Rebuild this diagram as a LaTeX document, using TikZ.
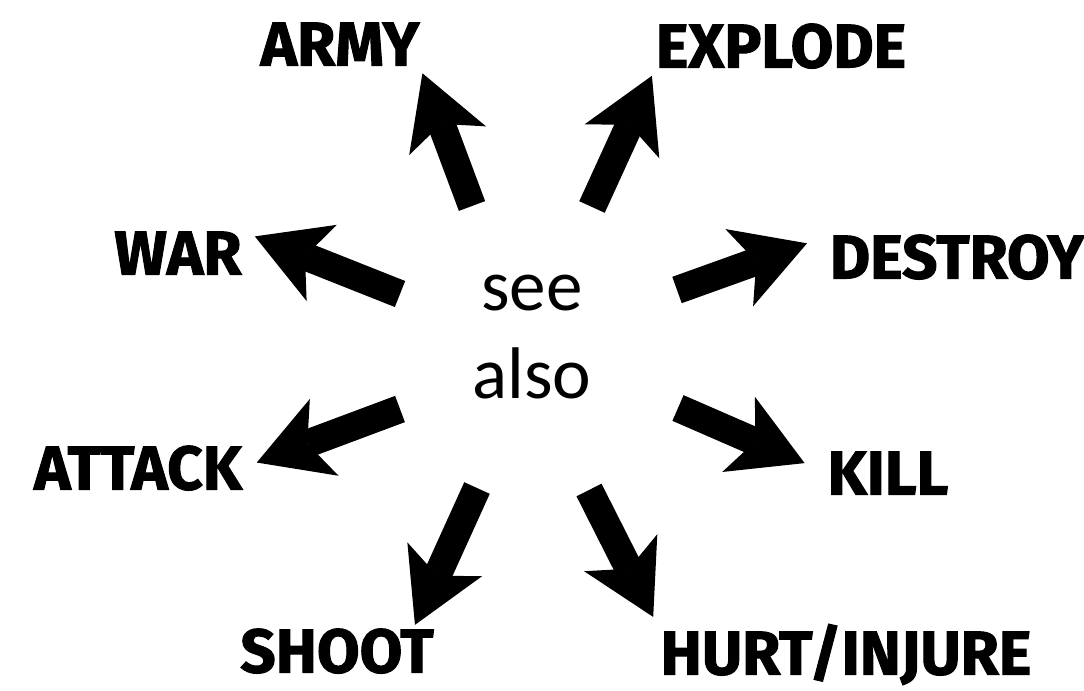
\documentclass[tikz,border=0pt]{standalone}
\usepackage{fontspec}
\setmainfont{Fira Sans}[BoldFeatures={FakeBold=1.6}]
\newfontfamily\seefont{Carlito}
\usetikzlibrary{arrows.meta}

\begin{document}
\begin{tikzpicture}[
      x=0.25mm, y=-0.25mm,
      word/.style={font=\bfseries\fontsize{44pt}{48pt}\selectfont,inner sep=0pt,text height=10.75mm,text depth=0pt},
      fat/.style={line width=7mm,-{Stealth[length=18mm,width=20.5mm,inset=4.5mm,line width=0pt]}}]
    \useasboundingbox (0,0) rectangle (1084,690);
    \node[font=\seefont\fontsize{52pt}{62pt}\selectfont,align=center] (seealso) at (532,337) {see\\also};
    \node[word] (army) at (340,44) {ARMY};
    \node[word] (explode) at (781,46) {EXPLODE};
    \node[word] (war) at (178,253) {WAR};
    \node[word] (destroy) at (957,257) {DESTROY};
    \node[word] (attack) at (138,468) {ATTACK};
    \node[word] (kill) at (888,473) {KILL};
    \node[word] (shoot) at (337,651) {SHOOT};
    \node[word] (hurt) at (846,653) {HURT/INJURE};
    % tails of the arrows, round the centre
    \coordinate (armytail) at (472,206);
    \coordinate (explodetail) at (592,207);
    \coordinate (wartail) at (400,294);
    \coordinate (destroytail) at (677,290);
    \coordinate (attacktail) at (400,409);
    \coordinate (killtail) at (678,408);
    \coordinate (shoottail) at (477,488);
    \coordinate (hurttail) at (589,490);
    \draw[fat,shorten >=2mm] (armytail) -- (army.south east);
    \draw[fat,shorten >=2.2mm] (explodetail) -- (explode.south west);
    \draw[fat,shorten >=3.5mm] (wartail) -- (war.north east);
    \draw[fat,shorten >=6mm] (destroytail) -- (destroy.north west);
    \draw[fat,shorten >=3.9mm] (attacktail) -- (attack.east);
    \draw[fat,shorten >=6.2mm] (killtail) -- (kill.west);
    \draw[fat,shorten >=1.2mm] (shoottail) -- (shoot.16);
    \draw[fat,shorten >=4mm] (hurttail) -- (hurt.north west);
  \end{tikzpicture}
\end{document}
